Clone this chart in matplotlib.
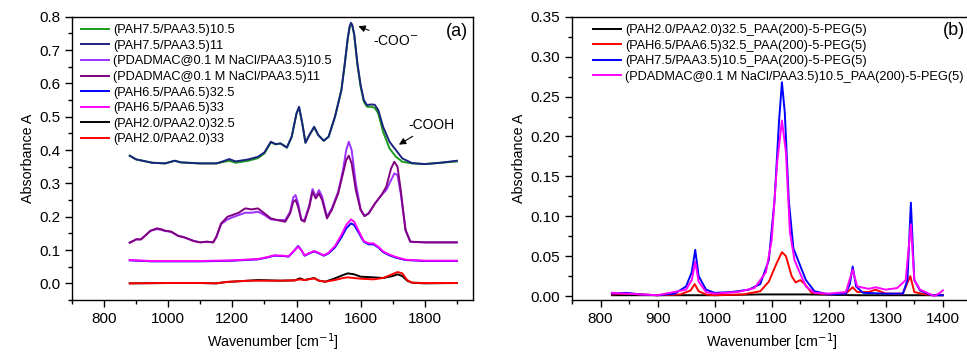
import numpy as np
import matplotlib.pyplot as plt
from matplotlib.ticker import MultipleLocator

plt.rcParams['font.family'] = ['Liberation Sans', 'DejaVu Sans']

# ---- panel (a) data ----
# PAH7.5/PAA3.5 (10.5 and 11 bilayers)
x_top = [880, 900, 950, 990, 1020, 1040, 1100, 1150, 1170, 1190, 1210, 1250, 1280, 1300,
         1320, 1335, 1350, 1370, 1385, 1400, 1408, 1418, 1428, 1440, 1455, 1468, 1485,
         1500, 1520, 1540, 1550, 1560, 1566, 1570, 1574, 1580, 1590, 1600, 1610, 1620,
         1632, 1644, 1655, 1670, 1690, 1710, 1730, 1760, 1800, 1850, 1900]
y_pah75_105 = [0.383, 0.372, 0.362, 0.360, 0.368, 0.363, 0.360, 0.360, 0.364, 0.368, 0.362,
               0.368, 0.376, 0.390, 0.423, 0.417, 0.420, 0.407, 0.440, 0.510, 0.528, 0.480,
               0.422, 0.445, 0.468, 0.445, 0.428, 0.440, 0.500, 0.580, 0.655, 0.735, 0.770,
               0.780, 0.773, 0.745, 0.655, 0.590, 0.545, 0.530, 0.530, 0.527, 0.510, 0.455,
               0.405, 0.380, 0.365, 0.360, 0.358, 0.362, 0.366]
y_pah75_11 = [0.383, 0.372, 0.362, 0.360, 0.368, 0.363, 0.360, 0.360, 0.366, 0.373, 0.366,
              0.372, 0.380, 0.393, 0.425, 0.418, 0.420, 0.408, 0.440, 0.510, 0.530, 0.480,
              0.422, 0.445, 0.470, 0.445, 0.428, 0.440, 0.500, 0.580, 0.655, 0.737, 0.772,
              0.782, 0.775, 0.748, 0.660, 0.595, 0.550, 0.535, 0.537, 0.536, 0.520, 0.470,
              0.425, 0.400, 0.375, 0.361, 0.358, 0.362, 0.368]

# PDADMAC@0.1 M NaCl/PAA3.5 (10.5 and 11 bilayers)
x_pd = [880, 900, 915, 930, 945, 965, 980, 990, 1000, 1010, 1030, 1050, 1080, 1100, 1120,
        1140, 1150, 1165, 1185, 1200, 1220, 1240, 1260, 1280, 1300, 1320, 1340, 1365, 1380,
        1390, 1397, 1405, 1415, 1425, 1440, 1450, 1460, 1470, 1480, 1495, 1510, 1530, 1545,
        1555, 1563, 1572, 1585, 1600, 1612, 1625, 1645, 1665, 1680, 1695, 1705, 1715, 1725,
        1740, 1755, 1800, 1900]
y_pd_105 = [0.122, 0.132, 0.132, 0.145, 0.158, 0.163, 0.160, 0.157, 0.156, 0.154, 0.143,
            0.138, 0.127, 0.123, 0.125, 0.123, 0.138, 0.178, 0.192, 0.198, 0.205, 0.212,
            0.212, 0.215, 0.205, 0.192, 0.190, 0.190, 0.215, 0.258, 0.265, 0.240, 0.192,
            0.190, 0.235, 0.283, 0.260, 0.280, 0.260, 0.200, 0.225, 0.275, 0.340, 0.400,
            0.425, 0.400, 0.300, 0.222, 0.202, 0.210, 0.240, 0.265, 0.280, 0.310, 0.330,
            0.325, 0.270, 0.160, 0.125, 0.123, 0.123]
y_pd_11 = [0.122, 0.132, 0.132, 0.145, 0.158, 0.165, 0.162, 0.158, 0.157, 0.155, 0.143,
           0.138, 0.127, 0.123, 0.125, 0.123, 0.140, 0.180, 0.200, 0.205, 0.212, 0.225,
           0.222, 0.225, 0.210, 0.195, 0.190, 0.185, 0.210, 0.245, 0.250, 0.230, 0.190,
           0.185, 0.230, 0.275, 0.255, 0.270, 0.250, 0.195, 0.220, 0.270, 0.330, 0.370,
           0.383, 0.360, 0.280, 0.220, 0.202, 0.210, 0.240, 0.265, 0.290, 0.345, 0.365,
           0.350, 0.280, 0.160, 0.125, 0.123, 0.123]

# PAH6.5/PAA6.5 (32.5 and 33 bilayers)
x_65 = [880, 950, 1100, 1200, 1280, 1310, 1330, 1360, 1375, 1390, 1405, 1415, 1425, 1440,
        1455, 1470, 1485, 1500, 1520, 1540, 1555, 1570, 1580, 1595, 1610, 1625, 1640, 1655,
        1670, 1690, 1710, 1740, 1800, 1900]
y_65_325 = [0.069, 0.066, 0.066, 0.068, 0.072, 0.078, 0.083, 0.082, 0.080, 0.095, 0.112,
            0.100, 0.083, 0.090, 0.096, 0.090, 0.083, 0.090, 0.108, 0.138, 0.165, 0.180,
            0.175, 0.150, 0.125, 0.117, 0.117, 0.108, 0.094, 0.084, 0.077, 0.070, 0.067, 0.067]
y_65_33 = [0.070, 0.067, 0.067, 0.069, 0.073, 0.079, 0.084, 0.083, 0.081, 0.096, 0.110,
           0.100, 0.084, 0.091, 0.097, 0.091, 0.084, 0.092, 0.112, 0.145, 0.175, 0.192,
           0.185, 0.155, 0.127, 0.120, 0.120, 0.110, 0.096, 0.086, 0.079, 0.071, 0.068, 0.068]

# PAH2.0/PAA2.0 (32.5 and 33 bilayers)
x_20 = [880, 1000, 1100, 1150, 1180, 1250, 1280, 1350, 1395, 1410, 1425, 1455, 1470, 1490,
        1520, 1545, 1560, 1580, 1600, 1640, 1670, 1700, 1715, 1730, 1745, 1760, 1800, 1900]
y_20_325 = [0.000, 0.001, 0.001, 0.000, 0.004, 0.008, 0.010, 0.008, 0.009, 0.015, 0.010,
            0.016, 0.008, 0.005, 0.015, 0.025, 0.030, 0.027, 0.020, 0.018, 0.016, 0.022,
            0.027, 0.022, 0.008, 0.002, 0.000, 0.001]
y_20_33 = [0.000, 0.001, 0.001, 0.000, 0.004, 0.008, 0.008, 0.008, 0.009, 0.012, 0.010,
           0.015, 0.008, 0.005, 0.010, 0.016, 0.018, 0.016, 0.014, 0.012, 0.016, 0.028,
           0.034, 0.030, 0.010, 0.002, 0.001, 0.001]

labels_a = ['(PAH7.5/PAA3.5)10.5', '(PAH7.5/PAA3.5)11',
            '(PDADMAC@0.1 M NaCl/PAA3.5)10.5', '(PDADMAC@0.1 M NaCl/PAA3.5)11',
            '(PAH6.5/PAA6.5)32.5', '(PAH6.5/PAA6.5)33',
            '(PAH2.0/PAA2.0)32.5', '(PAH2.0/PAA2.0)33']
colors_a = ['#1a9a1a', '#1a237e', '#9b30ff', '#800080', '#0000ff', '#ff00ff', 'black', 'red']

# ---- panel (b) data ----
x_blk = [820, 900, 1000, 1080, 1120, 1160, 1250, 1300, 1400]
y_blk = [0.001, 0.001, 0.001, 0.002, 0.002, 0.002, 0.001, 0.001, 0.001]

x_red = [820, 845, 870, 900, 940, 958, 965, 972, 985, 1000, 1050, 1080, 1095, 1108, 1118,
         1125, 1135, 1142, 1150, 1158, 1170, 1200, 1230, 1242, 1250, 1270, 1282, 1300, 1330,
         1343, 1350, 1370, 1390, 1400]
y_red = [0.002, 0.003, 0.002, 0.001, 0.002, 0.007, 0.015, 0.006, 0.002, 0.001, 0.002, 0.006,
         0.018, 0.040, 0.055, 0.050, 0.025, 0.017, 0.020, 0.015, 0.004, 0.002, 0.003, 0.011,
         0.005, 0.005, 0.008, 0.003, 0.003, 0.025, 0.005, 0.002, 0.001, 0.001]

x_blu = [820, 845, 870, 900, 930, 950, 960, 966, 972, 985, 1000, 1030, 1060, 1080, 1095,
         1105, 1113, 1118, 1123, 1130, 1138, 1150, 1160, 1175, 1200, 1230, 1237, 1242, 1248,
         1260, 1300, 1330, 1338, 1344, 1350, 1360, 1380, 1400]
y_blu = [0.003, 0.004, 0.002, 0.001, 0.003, 0.012, 0.030, 0.058, 0.025, 0.008, 0.004, 0.005,
         0.008, 0.015, 0.045, 0.120, 0.220, 0.268, 0.230, 0.120, 0.060, 0.038, 0.020, 0.006,
         0.002, 0.003, 0.015, 0.037, 0.012, 0.004, 0.003, 0.003, 0.020, 0.117, 0.020, 0.007,
         0.001, 0.001]

x_mag = [820, 845, 900, 950, 960, 966, 972, 985, 1000, 1040, 1070, 1090, 1100, 1110, 1118,
         1125, 1132, 1140, 1150, 1160, 1175, 1200, 1230, 1242, 1250, 1270, 1282, 1300, 1320,
         1335, 1344, 1350, 1360, 1385, 1395, 1400]
y_mag = [0.004, 0.003, 0.001, 0.008, 0.020, 0.043, 0.018, 0.005, 0.003, 0.005, 0.010, 0.030,
         0.070, 0.170, 0.220, 0.180, 0.080, 0.045, 0.028, 0.012, 0.004, 0.003, 0.005, 0.033,
         0.012, 0.009, 0.011, 0.008, 0.010, 0.020, 0.090, 0.020, 0.008, 0.000, 0.004, 0.007]

labels_b = ['(PAH2.0/PAA2.0)32.5_PAA(200)-5-PEG(5)', '(PAH6.5/PAA6.5)32.5_PAA(200)-5-PEG(5)',
            '(PAH7.5/PAA3.5)10.5_PAA(200)-5-PEG(5)',
            '(PDADMAC@0.1 M NaCl/PAA3.5)10.5_PAA(200)-5-PEG(5)']
colors_b = ['black', 'red', 'blue', '#ff00ff']

fig = plt.figure(figsize=(9.67, 3.54), dpi=100)
ax1 = fig.add_axes([0.0745, 0.1525, 0.4145, 0.80])
ax2 = fig.add_axes([0.5915, 0.1525, 0.4130, 0.80])

series_a = [(x_top, y_pah75_105), (x_top, y_pah75_11), (x_pd, y_pd_105), (x_pd, y_pd_11),
            (x_65, y_65_325), (x_65, y_65_33), (x_20, y_20_325), (x_20, y_20_33)]
for (xs, ys), lab, c in zip(series_a, labels_a, colors_a):
    ax1.plot(xs, ys, color=c, lw=1.4, label=lab)

ax1.set_xlim(700, 1950)
ax1.set_ylim(-0.05, 0.8)
ax1.xaxis.set_major_locator(MultipleLocator(200))
ax1.xaxis.set_minor_locator(MultipleLocator(100))
ax1.yaxis.set_major_locator(MultipleLocator(0.1))
ax1.yaxis.set_minor_locator(MultipleLocator(0.05))
ax1.yaxis.set_major_formatter(plt.FormatStrFormatter('%.1f'))
ax1.set_xlabel('Wavenumber [cm$^{-1}$]', fontsize=10.3, labelpad=4)
ax1.set_ylabel('Absorbance A', fontsize=10.3, labelpad=3)
ax1.legend(loc='upper left', bbox_to_anchor=(0.0, 1.005), frameon=False, fontsize=9.2,
           handlelength=2.2, handletextpad=0.3, labelspacing=0.28, borderaxespad=0.3)
ax1.text(1900, 0.755, '(a)', fontsize=13, ha='center', va='center')
ax1.annotate('-COO$^{-}$', xy=(1585, 0.775), xytext=(1640, 0.715), fontsize=10,
             arrowprops=dict(arrowstyle='-|>', color='black', lw=0.8, mutation_scale=10))
ax1.annotate('-COOH', xy=(1712, 0.412), xytext=(1748, 0.463), fontsize=10,
             arrowprops=dict(arrowstyle='-|>', color='black', lw=0.8, mutation_scale=10))

series_b = [(x_blk, y_blk), (x_red, y_red), (x_blu, y_blu), (x_mag, y_mag)]
for (xs, ys), lab, c in zip(series_b, labels_b, colors_b):
    ax2.plot(xs, ys, color=c, lw=1.4, label=lab)

ax2.set_xlim(750, 1450)
ax2.set_ylim(-0.005, 0.35)
ax2.xaxis.set_major_locator(MultipleLocator(100))
ax2.xaxis.set_minor_locator(MultipleLocator(50))
ax2.yaxis.set_major_locator(MultipleLocator(0.05))
ax2.yaxis.set_minor_locator(MultipleLocator(0.025))
ax2.yaxis.set_major_formatter(plt.FormatStrFormatter('%.2f'))
ax2.set_xlabel('Wavenumber [cm$^{-1}$]', fontsize=10.3, labelpad=4)
ax2.set_ylabel('Absorbance A', fontsize=10.3, labelpad=3)
ax2.legend(loc='upper left', bbox_to_anchor=(0.03, 1.006), frameon=False, fontsize=9.2,
           handlelength=2.2, handletextpad=0.3, labelspacing=0.28, borderaxespad=0.3)
ax2.text(1420, 0.333, '(b)', fontsize=13, ha='center', va='center')

for ax in (ax1, ax2):
    ax.tick_params(which='major', direction='out', length=5, width=1, labelsize=11,
                   top=False, right=False)
    ax.tick_params(which='minor', direction='out', length=3, width=1, top=False, right=False)
    for s in ax.spines.values():
        s.set_linewidth(1.0)

fig.savefig('out.png', dpi=100)
